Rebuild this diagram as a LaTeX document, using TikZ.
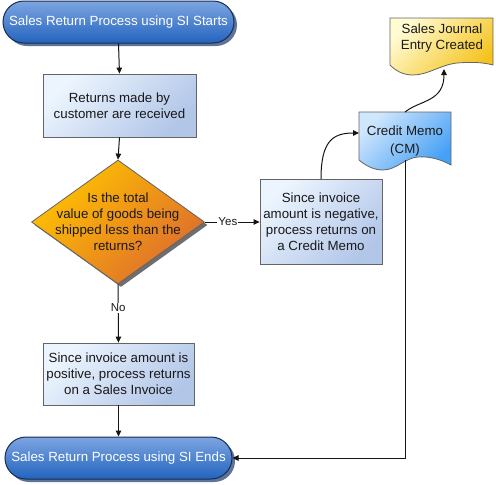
\documentclass[tikz,border=0pt]{standalone}
\usepackage{fontspec}
\setmainfont{Liberation Sans}
\usetikzlibrary{shapes.geometric,shapes.misc,arrows.meta,shadows}
\definecolor{termTop}{RGB}{125,165,225}
\definecolor{termBot}{RGB}{35,100,190}
\definecolor{termLine}{RGB}{25,45,85}
\definecolor{termShadow}{RGB}{95,115,150}
\definecolor{boxTop}{RGB}{236,245,254}
\definecolor{boxBot}{RGB}{178,198,232}
\definecolor{boxLine}{RGB}{100,100,100}
\definecolor{decTop}{RGB}{255,194,0}
\definecolor{decBot}{RGB}{222,108,45}
\definecolor{decShadow}{RGB}{110,110,110}
\definecolor{cmTop}{RGB}{208,230,252}
\definecolor{cmBot}{RGB}{70,160,245}
\definecolor{jrTop}{RGB}{255,251,210}
\definecolor{jrBot}{RGB}{245,195,30}
\definecolor{txtc}{RGB}{25,25,25}
\definecolor{conn}{RGB}{20,20,20}
\begin{document}
\begin{tikzpicture}[x=1pt,y=-1pt,
  font=\fontsize{13.3}{15.8}\selectfont,
  term/.style={rounded rectangle, draw=termLine, line width=1pt,
    top color=termTop, bottom color=termBot, text=white,
    minimum height=42pt, inner sep=0pt,
    drop shadow={shadow xshift=3pt, shadow yshift=-3pt, opacity=1, fill=termShadow}},
  procbox/.style={rectangle, draw=boxLine, line width=0.8pt,
    top color=boxTop, bottom color=boxBot, shading angle=45,
    text=txtc, align=center, inner sep=0pt},
  decision/.style={diamond, draw=boxLine, line width=0.8pt,
    top color=decTop, bottom color=decBot, shading angle=45,
    minimum width=173pt, minimum height=124pt, inner sep=0pt,
    drop shadow={shadow xshift=3pt, shadow yshift=-3pt, opacity=1, fill=decShadow}},
  plaintext/.style={text=txtc, align=center, inner sep=0pt},
  conn/.style={draw=conn, line width=1pt, -{Triangle[length=6pt,width=5.5pt]}},
  lbl/.style={fill=white, inner sep=1pt, text=txtc, font=\fontsize{11.5}{13}\selectfont}
]
\useasboundingbox (0,0) rectangle (496,485);

% nodes
\node[term, minimum width=231pt] (start) at (118.5,22) {Sales Return Process using SI Starts};
\node[procbox, minimum width=153pt, minimum height=63pt] (box1) at (119.5,105.5)
  {Returns made by\\customer are received};
\node[decision] (dec) at (118,222) {};
\node[plaintext, font=\fontsize{13.3}{16}\selectfont] (dectxt) at (dec.center) {Is the total\\value of goods being\\shipped less than the\\returns?};
\node[procbox, minimum width=122pt, minimum height=85pt, font=\fontsize{13.3}{16}\selectfont] (box2) at (321,222)
  {Since invoice\\amount is negative,\\process returns on\\a Credit Memo};
\node[procbox, minimum width=151pt, minimum height=62pt] (box3) at (118.5,374)
  {Since invoice amount is\\positive, process returns\\on a Sales Invoice};
\node[term, minimum width=227pt] (end) at (118.5,458) {Sales Return Process using SI Ends};

% Credit Memo document
\draw[draw=boxLine, line width=0.8pt, top color=cmTop, bottom color=cmBot, shading angle=45]
  (359,112) -- (451,112) -- (451,165)
  .. controls (442,160) and (430,156) .. (418,157)
  .. controls (405,158) and (396,170) .. (383,170)
  .. controls (374,170) and (366,166) .. (359,160) -- cycle;
\node[plaintext, font=\fontsize{13.3}{18}\selectfont] (cm) at (405,141) {Credit Memo\\(CM)};

% Sales Journal document
\draw[draw=boxLine, line width=0.8pt, top color=jrTop, bottom color=jrBot, shading angle=45]
  (390,18) -- (493,18) -- (493,65)
  .. controls (482,62) and (470,62) .. (457,63)
  .. controls (440,65) and (428,75) .. (413,75)
  .. controls (402,75) and (395,70) .. (390,65) -- cycle;
\node[plaintext, font=\fontsize{13.3}{16}\selectfont] (jr) at (442,38) {Sales Journal\\Entry Created};

\coordinate (cmIn) at (359,133);
\coordinate (cmTop) at (405,112);
\coordinate (cmBot) at (405,160);
\coordinate (jrIn) at (444,69);

% connectors
\draw[conn] (start.south) -- (box1.north);
\draw[conn] (box1.south) -- (dec.north);
\draw[conn] (dec.east) -- node[lbl, pos=0.42] (yes) {Yes} (box2.west);
\draw[conn] (dec.south) -- node[lbl, pos=0.4] (no) {No} (box3.north);
\draw[conn] (box3.south) -- (end.north);
\draw[conn] (box2.north) .. controls (321,142) and (332,133) .. (cmIn);
\draw[conn] (cmTop) .. controls (420,100) and (444,102) .. (jrIn);
\draw[conn] (cmBot) |- (end.east);
\end{tikzpicture}
\end{document}
